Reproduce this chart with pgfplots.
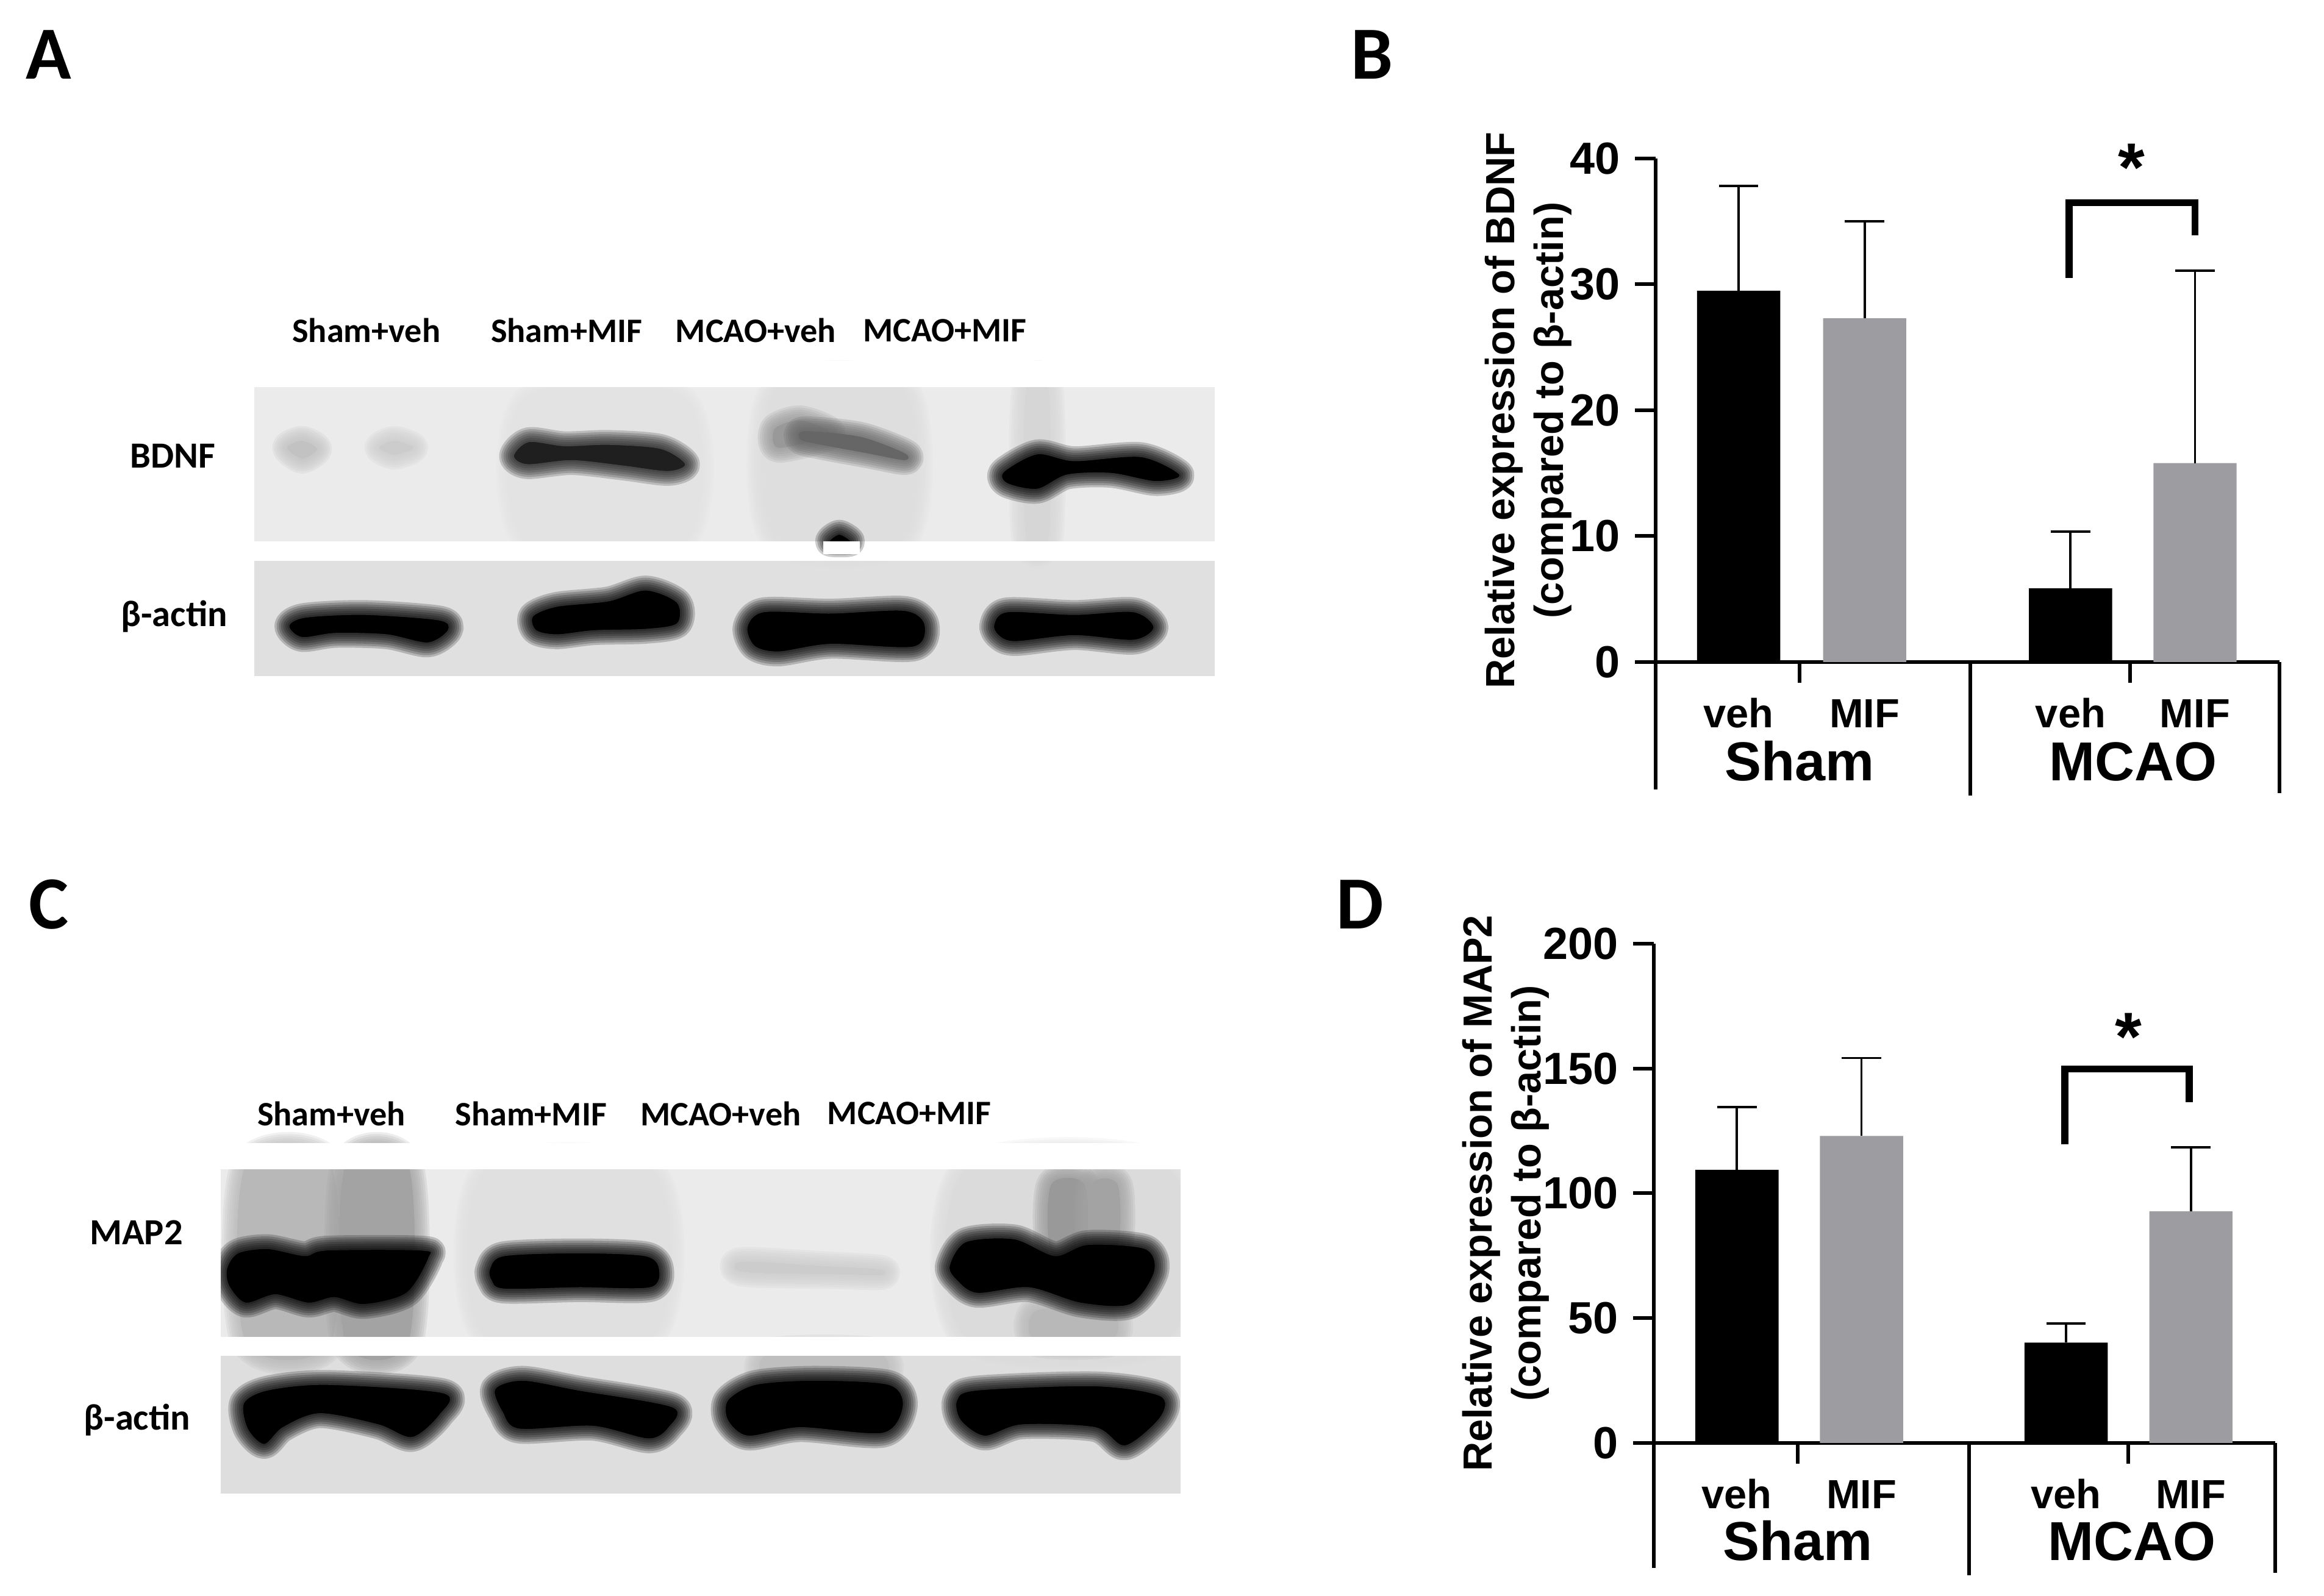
\documentclass[border=0pt]{standalone}
\usepackage{fontspec}
\usepackage{pgfplots}
\pgfplotsset{compat=1.18}
\setmainfont{Liberation Sans}
\newfontfamily\blotfont{Carlito}
\definecolor{bargray}{HTML}{9D9CA1}

% soft edged blot band: the same outline drawn wide and faint, then solid
\newcommand{\layer}[3]{\addplot[forget plot, smooth cycle, draw=#1, fill=#1, line width=#2, opacity=.2, line join=round] coordinates {#3};}
\newcommand{\band}[2]{%
  \layer{#1}{7pt}{#2}\layer{#1}{6pt}{#2}\layer{#1}{5pt}{#2}\layer{#1}{4pt}{#2}%
  \layer{#1}{3pt}{#2}\layer{#1}{2pt}{#2}\layer{#1}{1pt}{#2}%
  \addplot[forget plot, smooth cycle, fill=#1, draw=none] coordinates {#2};}
\newcommand{\rect}[5]{\addplot[forget plot, fill=#1, draw=none] coordinates {(#2,#4) (#3,#4) (#3,#5) (#2,#5)} --cycle;}
\newcommand{\streak}[5]{\band{#1}{(#2,#4) (#3,#4) (#3,#5) (#2,#5)}}

\tikzset{
  lane/.style={font=\blotfont\bfseries\fontsize{8}{9}\selectfont},
  protein/.style={font=\blotfont\bfseries\fontsize{8.6}{10}\selectfont},
  grouplab/.style={font=\bfseries\fontsize{12.8}{14}\selectfont, anchor=base},
}
\pgfplotsset{
  blot/.style={hide axis, scale only axis, width=9.5cm, xmin=0, xmax=1568, ymin=0, ymax=1568, y dir=reverse},
  expr/.style={
    scale only axis, clip=false, ybar, bar width=.66, bar shift=0pt,
    axis lines=left, axis line style={-, line width=.85pt},
    ymin=0, xmin=0,
    ytick style={line width=.85pt, black},
    major tick length=.17cm, tick align=outside,
    xtick style={draw=none},
    xticklabels={veh,MIF,veh,MIF},
    /pgf/number format/assume math mode=true,
    yticklabel style={font=\bfseries\fontsize{10.5}{12}\selectfont},
    xticklabel style={font=\bfseries\fontsize{9.5}{11}\selectfont, anchor=base, yshift=-.366cm},
    ylabel style={font=\bfseries\fontsize{9.5}{11.4}\selectfont, align=center, anchor=center},
    error bars/y dir=plus, error bars/y explicit,
    error bars/error bar style={black, line width=.55pt},
    error bars/error mark options={black, rotate=90, mark size=4.6pt, line width=.55pt},
  },
}

\begin{document}
\begin{tikzpicture}
\useasboundingbox (0,0) rectangle (19.055,13.09);

% panel letters
\node[font=\blotfont\bfseries\fontsize{17.5}{20}\selectfont] at (0.40,12.64) {A};
\node[font=\blotfont\bfseries\fontsize{17.5}{20}\selectfont] at (11.25,12.64) {B};
\node[font=\blotfont\bfseries\fontsize{17.5}{20}\selectfont] at (0.40,5.67) {C};
\node[font=\blotfont\bfseries\fontsize{17.5}{20}\selectfont] at (11.15,5.67) {D};

% ---- A: BDNF blot ----
\begin{axis}[blot, height=3.5cm, at={(0.75cm,7.19cm)}, anchor=south west]
\rect{black!8}{220}{1520}{348}{915}
\rect{black!12}{220}{1520}{985}{1410}
\streak{black!13}{925}{1100}{360}{900}
\streak{black!16}{1265}{1295}{360}{900}
\streak{black!11}{590}{800}{400}{900}
\band{black!24}{(265,570) (285,545) (305,575) (285,610)}
\band{black!20}{(390,570) (410,545) (435,570) (410,595)}
\band{black!40}{(925,500) (960,470) (1000,520) (930,570)}
\band{black!60}{(965,510) (1040,530) (1100,590) (1100,615) (1050,590) (990,560) (960,540)}
\band{black!88}{(572,600) (592,550) (640,565) (700,560) (770,575) (803,630) (780,655) (720,635) (650,615) (590,630)}
\band{black}{(1235,660) (1280,595) (1330,620) (1420,605) (1472,670) (1440,692) (1380,662) (1320,668) (1280,720) (1240,700)}
\band{black}{(268,1225) (290,1195) (370,1185) (470,1205) (482,1240) (455,1285) (400,1255) (330,1250) (285,1265)}
\band{black}{(598,1190) (630,1155) (700,1135) (750,1095) (792,1140) (792,1215) (750,1235) (680,1240) (630,1255) (602,1240)}
\band{black}{(888,1230) (910,1175) (1000,1180) (1100,1170) (1127,1220) (1112,1300) (1000,1290) (930,1318) (898,1298)}
\band{black}{(1222,1220) (1240,1175) (1330,1185) (1410,1175) (1437,1230) (1410,1275) (1330,1258) (1250,1280) (1228,1258)}
% white gaps round the strips
\rect{white}{100}{1568}{250}{348}
\rect{white}{220}{1568}{915}{985}
\rect{white}{220}{1568}{1410}{1500}
\rect{white}{1520}{1568}{250}{1500}
\rect{white}{150}{220}{250}{1500}
\band{black}{(1000,915) (1012,890) (1026,915)}
\rect{white}{990}{1040}{915}{960}
\node[lane] at (axis cs:372,140) {Sham+veh};
\node[lane] at (axis cs:643,140) {Sham+MIF};
\node[lane] at (axis cs:899,140) {MCAO+veh};
\node[lane] at (axis cs:1155,140) {MCAO+MIF};
\node[protein] at (axis cs:110,600) {BDNF};
\node[protein] at (axis cs:112,1190) {β-actin};
\end{axis}

% ---- C: MAP2 blot ----
\begin{axis}[blot, height=3.6cm, at={(0.5cm,0.69cm)}, anchor=south west]
\rect{black!8}{216}{1515}{345}{943}
\rect{black!13}{216}{1515}{1010}{1503}
\streak{black!12}{575}{800}{360}{930}
\streak{black!14}{1225}{1500}{345}{943}
\streak{black!28}{250}{365}{330}{960}
\streak{black!36}{385}{470}{330}{960}
\streak{black!40}{1340}{1385}{400}{640}
\streak{black!36}{1395}{1430}{400}{620}
\streak{black!28}{1320}{1420}{850}{960}
\streak{black!25}{960}{1105}{1000}{1110}
\band{black}{(225,700) (240,645) (280,630) (330,655) (360,635) (487,635) (497,660) (467,785) (410,825) (370,800) (335,820) (290,790) (250,820) (228,760)}
\band{black}{(581,700) (600,655) (700,645) (790,655) (809,700) (797,765) (700,765) (600,770) (583,740)}
\band{black!20}{(912,690) (930,675) (1040,692) (1108,703) (1108,722) (1040,718) (930,712)}
\band{black}{(1203,690) (1225,605) (1290,595) (1345,655) (1390,615) (1467,630) (1479,710) (1447,825) (1380,820) (1310,765) (1240,785) (1213,740)}
\band{black}{(248,1180) (280,1135) (360,1115) (517,1145) (512,1220) (475,1300) (430,1255) (350,1215) (300,1265) (275,1325) (253,1270)}
\band{black}{(588,1130) (625,1100) (700,1135) (827,1195) (822,1265) (795,1305) (720,1260) (620,1270) (598,1210)}
\band{black}{(903,1170) (940,1115) (1020,1100) (1120,1115) (1139,1190) (1112,1285) (1000,1265) (930,1295) (903,1240)}
\band{black}{(1213,1170) (1240,1135) (1400,1120) (1487,1155) (1487,1230) (1440,1330) (1400,1265) (1300,1255) (1250,1295) (1218,1240)}
\rect{white}{100}{1568}{250}{345}
\rect{white}{216}{1568}{943}{1010}
\rect{white}{216}{1568}{1503}{1568}
\rect{white}{1515}{1568}{250}{1568}
\rect{white}{150}{216}{250}{1568}
\node[lane] at (axis cs:366,145) {Sham+veh};
\node[lane] at (axis cs:636,145) {Sham+MIF};
\node[lane] at (axis cs:893,145) {MCAO+veh};
\node[lane] at (axis cs:1148,145) {MCAO+MIF};
\node[protein] at (axis cs:102,570) {MAP2};
\node[protein] at (axis cs:103,1240) {β-actin};
\end{axis}

% ---- B: BDNF bars ----
\begin{axis}[expr, at={(13.575cm,7.66cm)}, anchor=south west,
  width=5.115cm, height=4.13cm, xmax=4.953, ymax=40,
  ytick={0,10,20,30,40}, xtick={0.659,1.659,3.294,4.282},
  ylabel={Relative expression of BDNF\\(compared to β-actin)},
  ylabel style={at={(axis description cs:-0.204,0.5)}}]
\addplot[fill=black, draw=none] coordinates {(0.659,29.5) +- (0,8.3) (3.294,5.85) +- (0,4.5)};
\addplot[fill=bargray, draw=none] coordinates {(1.659,27.3) +- (0,7.7) (4.282,15.8) +- (0,15.3)};
\draw[line width=.85pt] (axis cs:1.141,0) -- (axis cs:1.141,-1.65);
\draw[line width=.85pt] (axis cs:3.765,0) -- (axis cs:3.765,-1.65);
\draw[line width=.85pt] (axis cs:0,0) -- (axis cs:0,-10.1);
\draw[line width=.85pt] (axis cs:2.5,0) -- (axis cs:2.5,-10.6);
\draw[line width=.85pt] (axis cs:4.953,0) -- (axis cs:4.953,-10.4);
\node[grouplab] at (axis cs:1.142,-9.4) {Sham};
\node[grouplab] at (axis cs:3.79,-9.4) {MCAO};
\draw[line width=1.6pt] (axis cs:3.282,30.5) -- (axis cs:3.282,36.5) -- (axis cs:4.282,36.5) -- (axis cs:4.282,33.9);
\node[font=\bfseries\fontsize{16}{18}\selectfont] at (axis cs:3.776,39.3) {*};
\end{axis}

% ---- D: MAP2 bars ----
\begin{axis}[expr, at={(13.56cm,1.255cm)}, anchor=south west,
  width=5.095cm, height=4.095cm, xmax=4.929, ymax=200,
  ytick={0,50,100,150,200}, xtick={0.659,1.647,3.27,4.26},
  ylabel={Relative expression of MAP2\\(compared to β-actin)},
  ylabel style={at={(axis description cs:-0.2385,0.5)}}]
\addplot[fill=black, draw=none] coordinates {(0.659,109.4) +- (0,25.2) (3.27,40.2) +- (0,7.6)};
\addplot[fill=bargray, draw=none] coordinates {(1.647,123) +- (0,31.2) (4.26,92.8) +- (0,25.7)};
\draw[line width=.85pt] (axis cs:1.141,0) -- (axis cs:1.141,-8.2);
\draw[line width=.85pt] (axis cs:3.765,0) -- (axis cs:3.765,-8.2);
\draw[line width=.85pt] (axis cs:0,0) -- (axis cs:0,-50);
\draw[line width=.85pt] (axis cs:2.5,0) -- (axis cs:2.5,-53);
\draw[line width=.85pt] (axis cs:4.929,0) -- (axis cs:4.929,-52);
\node[grouplab] at (axis cs:1.142,-47) {Sham};
\node[grouplab] at (axis cs:3.79,-47) {MCAO};
\draw[line width=1.6pt] (axis cs:3.26,119.6) -- (axis cs:3.26,149.8) -- (axis cs:4.247,149.8) -- (axis cs:4.247,136.6);
\node[font=\bfseries\fontsize{16}{18}\selectfont] at (axis cs:3.765,162.6) {*};
\end{axis}
\end{tikzpicture}
\end{document}
